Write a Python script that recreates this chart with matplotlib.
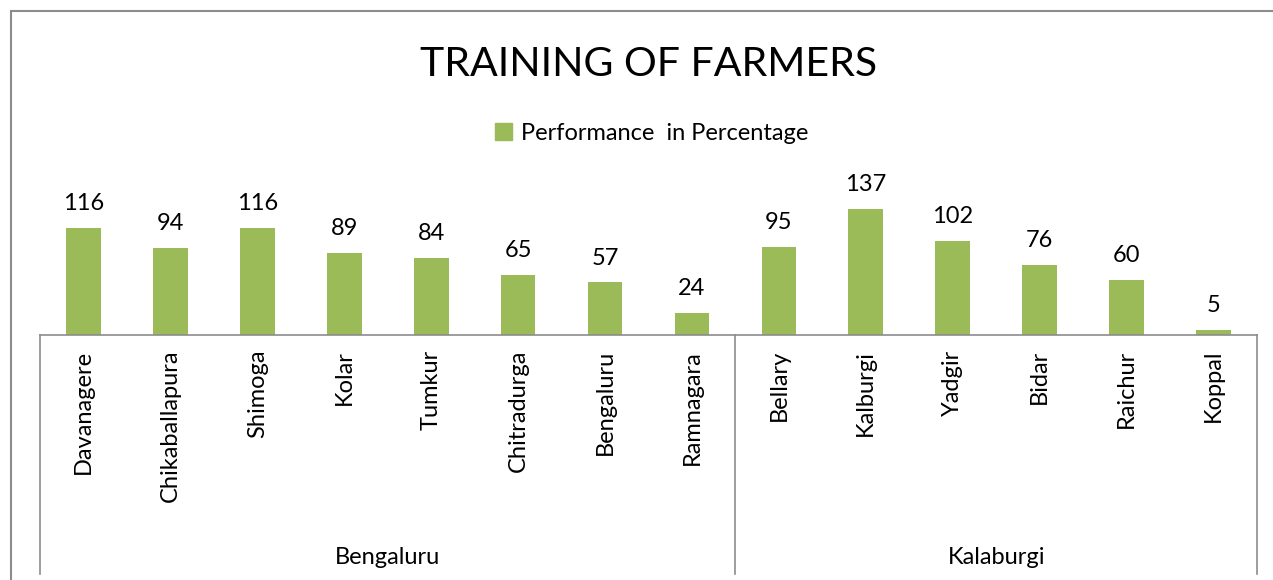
import matplotlib
matplotlib.use("Agg")
import matplotlib.pyplot as plt
from matplotlib.lines import Line2D
import matplotlib.transforms as mtransforms
import matplotlib.patches as mpatches

districts = ["Davanagere", "Chikaballapura", "Shimoga", "Kolar", "Tumkur", "Chitradurga",
             "Bengaluru", "Ramnagara", "Bellary", "Kalburgi", "Yadgir", "Bidar", "Raichur", "Koppal"]
values = [116, 94, 116, 89, 84, 65, 57, 24, 95, 137, 102, 76, 60, 5]
groups = ["Bengaluru", "Kalaburgi"]
group_sizes = [8, 6]
title = "TRAINING OF FARMERS"
series_name = "Performance  in Percentage"

W, H = 1273, 580
fig = plt.figure(figsize=(W / 100, H / 100), dpi=100)
plt.rcParams['font.family'] = ['Lato', 'DejaVu Sans']

ax_left, ax_right, ax_base, ax_top = 40, 1257, 335, 160
ax = fig.add_axes([ax_left / W, 1 - ax_base / H, (ax_right - ax_left) / W, (ax_base - ax_top) / H])
px_per_unit = 107 / 116.0
ax.set_ylim(0, (ax_base - ax_top) / px_per_unit)
ax.set_xlim(-0.5, len(districts) - 0.5)

fs = 17
bar_color = "#9BBB59"
x = list(range(len(districts)))
bars = ax.bar(x, values, width=0.4, color=bar_color)
for xi, v in zip(x, values):
    ax.annotate(str(v), (xi, v), xytext=(0, 10), textcoords="offset points",
                ha="center", va="bottom", fontsize=fs)

for s in ["top", "left", "right"]:
    ax.spines[s].set_visible(False)
ax.spines["bottom"].set_color("#8c8c8c")
ax.spines["bottom"].set_linewidth(1.2)
ax.set_yticks([])
ax.set_xticks([])

trans = mtransforms.blended_transform_factory(ax.transData, fig.transFigure)
for xi, name in zip(x, districts):
    ax.text(xi, 1 - 350 / H, name, transform=trans, rotation=90, ha="center", va="top", fontsize=fs)

# group separators
bounds = [-0.5]
for g in group_sizes:
    bounds.append(bounds[-1] + g)
for b in bounds:
    fig.add_artist(Line2D([ax.transData.transform((b, 0))[0] / W] * 2, [1 - 335 / H, 1 - 574 / H],
                          transform=fig.transFigure, color="#8c8c8c", lw=1.2))
for i, gname in enumerate(groups):
    c = (bounds[i] + bounds[i + 1]) / 2
    ax.text(c, 1 - 557 / H, gname, transform=trans, ha="center", va="center", fontsize=fs)

fig.text(649 / W, 1 - 64 / H, title, ha="center", va="center", fontsize=29.5)
fig.legend(handles=[mpatches.Patch(color=bar_color, label=series_name)],
           loc="center", bbox_to_anchor=(652 / W, 1 - 133 / H), frameon=False,
           fontsize=fs, handlelength=0.7, handleheight=0.7, handletextpad=0.4)

# chart border
fig.add_artist(Line2D([11 / W, 11 / W], [0, 1 - 11 / H], transform=fig.transFigure, color="#8c8c8c", lw=1.5))
fig.add_artist(Line2D([11 / W, 1], [1 - 11 / H, 1 - 11 / H], transform=fig.transFigure, color="#8c8c8c", lw=1.5))

fig.savefig("out.png", dpi=100)
